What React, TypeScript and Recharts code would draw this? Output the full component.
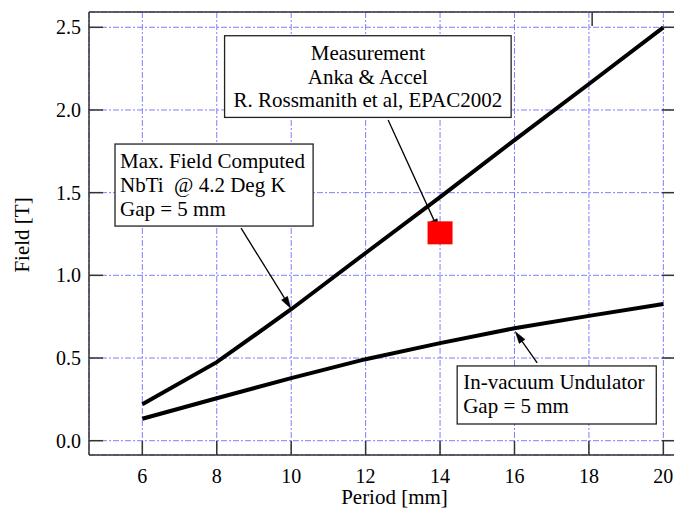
import React from 'react';
import {
  ComposedChart,
  Line,
  Scatter,
  XAxis,
  YAxis,
  CartesianGrid,
  ReferenceArea,
  ReferenceLine,
} from 'recharts';

// ---- data ----
const periods = [6, 8, 10, 12, 14, 16, 18, 20];
const maxFieldNbTi = [0.22, 0.475, 0.795, 1.135, 1.473, 1.818, 2.157, 2.5];
const inVacuumUndulator = [0.133, 0.257, 0.378, 0.493, 0.59, 0.68, 0.755, 0.827];
const measurementPeriod = [14];
const measurementField = [1.257];

const xTicks = [6, 8, 10, 12, 14, 16, 18, 20];
const yTicks = [0, 0.5, 1.0, 1.5, 2.0, 2.5];

const rows = periods.map((p, i) => ({
  period: p,
  maxField: maxFieldNbTi[i],
  undulator: inVacuumUndulator[i],
}));
const measurement = measurementPeriod.map((p, i) => ({ period: p, field: measurementField[i] }));

// annotation texts
const measurementText = ['Measurement', 'Anka & Accel', 'R. Rossmanith et al, EPAC2002'];
const maxFieldText = ['Max. Field Computed', 'NbTi  @ 4.2 Deg K', 'Gap = 5 mm'];
const undulatorText = ['In-vacuum Undulator', 'Gap = 5 mm'];

const FONT = "'Liberation Serif', 'Times New Roman', serif";
const FS = 20;
const FS_TXT = 21;
const FRAME = '#333';

const emptyTick = () => <g />;

const boxShape = (lines: string[], align: 'center' | 'left', padX: number, firstBase: number, lineH: number) =>
  (p: any) => {
    const { x, y, width, height } = p;
    return (
      <g>
        <rect x={x} y={y} width={width} height={height} fill="#fff" stroke="#222" strokeWidth={1.3} />
        {lines.map((t, i) => (
          <text
            key={i}
            x={align === 'center' ? x + width / 2 : x + padX}
            y={y + firstBase + i * lineH}
            textAnchor={align === 'center' ? 'middle' : 'start'}
            fontFamily={FONT}
            fontSize={FS_TXT}
            fill="#000"
            style={{ whiteSpace: 'pre' }}
          >
            {t}
          </text>
        ))}
      </g>
    );
  };

const arrowShape = (p: any) => {
  const { x1, y1, x2, y2 } = p;
  const ang = Math.atan2(y2 - y1, x2 - x1);
  const L = 12;
  const W = 3.5;
  const bx = x2 - L * Math.cos(ang);
  const by = y2 - L * Math.sin(ang);
  const nx = -Math.sin(ang);
  const ny = Math.cos(ang);
  return (
    <g>
      <line x1={x1} y1={y1} x2={bx} y2={by} stroke="#000" strokeWidth={1.3} />
      <polygon
        points={`${x2},${y2} ${bx + nx * W},${by + ny * W} ${bx - nx * W},${by - ny * W}`}
        fill="#000"
        stroke="#000"
        strokeWidth={0.5}
      />
    </g>
  );
};

const squareShape = (p: any) => {
  const { cx, cy } = p;
  return <rect x={cx - 12.5} y={cy - 11.5} width={25} height={23} fill="#ff0000" />;
};

export default function App() {
  return (
    <div style={{ position: 'fixed', left: 0, top: 0, width: 674, height: 509, overflow: 'hidden', background: '#fff' }}>
      <ComposedChart
        width={690}
        height={520}
        data={rows}
        margin={{ top: 0, right: 0, bottom: 0, left: 0 }}
      >
        <CartesianGrid
          stroke="#7f7fff"
          strokeDasharray="6 2 2 2"
          strokeWidth={1}
          xAxisId="b"
          yAxisId="l"
        />
        <XAxis
          xAxisId="b"
          dataKey="period"
          type="number"
          domain={[4.567, 20.34]}
          allowDataOverflow
          ticks={xTicks}
          height={65}
          orientation="bottom"
          tickSize={-14}
          tickMargin={28}
          axisLine={{ stroke: FRAME, strokeWidth: 1.5 }}
          tickLine={{ stroke: FRAME, strokeWidth: 1.5 }}
          tick={{ fontFamily: FONT, fontSize: FS, fill: '#000' }}
          label={{
            content: (props: any) => {
              const vb = props.viewBox;
              return (
                <text x={vb.x + vb.width / 2 + 12} y={vb.y + 49} textAnchor="middle" fontFamily={FONT} fontSize={FS_TXT} fill="#000">
                  Period [mm]
                </text>
              );
            },
          }}
        />
        <XAxis
          xAxisId="t"
          type="number"
          domain={[4.567, 20.34]}
          allowDataOverflow
          ticks={xTicks}
          height={12}
          orientation="top"
          tickSize={-14}
          axisLine={{ stroke: FRAME, strokeWidth: 1.5 }}
          tickLine={{ stroke: FRAME, strokeWidth: 1.5 }}
          tick={emptyTick}
        />
        <YAxis
          yAxisId="l"
          type="number"
          domain={[-0.0865, 2.5925]}
          allowDataOverflow
          ticks={yTicks}
          width={89}
          orientation="left"
          tickSize={-14}
          tickMargin={22}
          tickFormatter={(v: number) => v.toFixed(1)}
          axisLine={{ stroke: FRAME, strokeWidth: 1.5 }}
          tickLine={{ stroke: FRAME, strokeWidth: 1.5 }}
          tick={{ fontFamily: FONT, fontSize: FS, fill: '#000' }}
          label={{
            content: (props: any) => {
              const vb = props.viewBox;
              const cx = 29;
              const cy = vb.y + vb.height / 2 + 1.5;
              return (
                <text x={cx} y={cy} transform={`rotate(-90 ${cx} ${cy})`} textAnchor="middle" fontFamily={FONT} fontSize={FS_TXT} fill="#000">
                  Field [T]
                </text>
              );
            },
          }}
        />
        <YAxis
          yAxisId="r"
          type="number"
          domain={[-0.0865, 2.5925]}
          allowDataOverflow
          ticks={yTicks}
          width={14}
          orientation="right"
          tickSize={-14}
          axisLine={{ stroke: FRAME, strokeWidth: 1.5 }}
          tickLine={{ stroke: FRAME, strokeWidth: 1.5 }}
          tick={emptyTick}
        />

        <ReferenceArea
          xAxisId="b"
          yAxisId="l"
          x1={8.21}
          x2={15.91}
          y1={1.955}
          y2={2.449}
          shape={boxShape(measurementText, 'center', 0, 24.3, 23.7)}
        />
        <ReferenceArea
          xAxisId="b"
          yAxisId="l"
          x1={5.266}
          x2={10.589}
          y1={1.298}
          y2={1.794}
          shape={boxShape(maxFieldText, 'left', 5, 23.7, 24.2)}
        />
        <ReferenceArea
          xAxisId="b"
          yAxisId="l"
          x1={14.46}
          x2={19.81}
          y1={0.101}
          y2={0.452}
          shape={boxShape(undulatorText, 'left', 6, 23, 23.7)}
        />

        <Line
          xAxisId="b"
          yAxisId="l"
          type="linear"
          dataKey="maxField"
          stroke="#000"
          strokeWidth={4}
          dot={false}
          activeDot={false}
          isAnimationActive={false}
        />
        <Line
          xAxisId="b"
          yAxisId="l"
          type="linear"
          dataKey="undulator"
          stroke="#000"
          strokeWidth={4}
          dot={false}
          activeDot={false}
          isAnimationActive={false}
        />
        <Scatter
          xAxisId="b"
          yAxisId="l"
          data={measurement}
          dataKey="field"
          shape={squareShape}
          isAnimationActive={false}
        />

        <ReferenceLine
          xAxisId="b"
          yAxisId="l"
          segment={[{ x: 12.605, y: 1.939 }, { x: 13.97, y: 1.268 }]}
          shape={arrowShape}
        />
        <ReferenceLine
          xAxisId="b"
          yAxisId="l"
          segment={[{ x: 8.653, y: 1.286 }, { x: 9.99, y: 0.80 }]}
          shape={arrowShape}
        />
        <ReferenceLine
          xAxisId="b"
          yAxisId="l"
          segment={[{ x: 16.61, y: 0.47 }, { x: 16.02, y: 0.66 }]}
          shape={arrowShape}
        />
      </ComposedChart>
    </div>
  );
}
